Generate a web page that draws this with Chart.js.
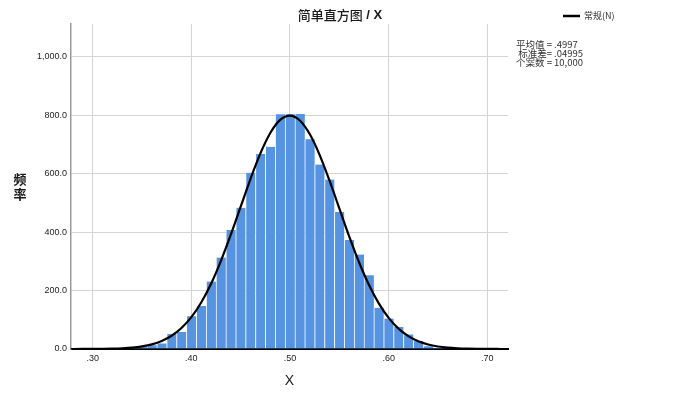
<!DOCTYPE html>
<html>
<head>
<meta charset="utf-8">
<script src="https://cdn.jsdelivr.net/npm/chart.js@4.4.1/dist/chart.umd.min.js"></script>
<style>
  html, body { margin: 0; padding: 0; background: #fff; }
  #wrap { width: 680px; height: 400px; position: relative; }
</style>
</head>
<body>
<div id="wrap"><canvas id="c" width="680" height="400"></canvas></div>
<script>
// ---- data ----
const binCenters = [0.34, 0.35, 0.36, 0.37, 0.38, 0.39, 0.40, 0.41, 0.42, 0.43, 0.44, 0.45, 0.46, 0.47, 0.48, 0.49,
                    0.50, 0.51, 0.52, 0.53, 0.54, 0.55, 0.56, 0.57, 0.58, 0.59, 0.60, 0.61, 0.62, 0.63, 0.64, 0.65, 0.66];
const frequencies = [7, 9, 13, 19, 51, 58, 112, 147, 231, 313, 407, 483, 603, 667, 692, 803,
                     803, 804, 718, 631, 580, 469, 373, 323, 252, 141, 104, 75, 50, 27, 9, 4, 1];

const curveX = [0.27, 0.28, 0.29, 0.30, 0.31, 0.32, 0.33, 0.34, 0.35, 0.36, 0.37, 0.38, 0.39, 0.40, 0.41, 0.42,
                0.43, 0.44, 0.45, 0.46, 0.47, 0.48, 0.49, 0.50, 0.51, 0.52, 0.53, 0.54, 0.55, 0.56, 0.57, 0.58,
                0.59, 0.60, 0.61, 0.62, 0.63, 0.64, 0.65, 0.66, 0.67, 0.68, 0.69, 0.70, 0.71, 0.72, 0.73];
const curveY = [0.02, 0.05, 0.12, 0.27, 0.59, 1.2, 2.5, 4.8, 9.0, 16.0, 27.4, 45.2, 71.6, 108.9, 159.2, 223.5,
                301.8, 391.1, 486.9, 582.3, 669.2, 739.0, 783.8, 798.7, 781.9, 735.4, 664.4, 576.7, 481.1, 385.5, 296.8, 219.6,
                156.0, 106.4, 69.8, 44.0, 26.6, 15.5, 8.6, 4.6, 2.4, 1.2, 0.56, 0.26, 0.11, 0.05, 0.02];

const xTickValues = [0.30, 0.40, 0.50, 0.60, 0.70];
const xTickLabels = ['.30', '.40', '.50', '.60', '.70'];
const yTickValues = [0, 200, 400, 600, 800, 1000];
const yTickLabels = ['0.0', '200.0', '400.0', '600.0', '800.0', '1,000.0'];

const titleMain = '简单直方图';
const titleTail = ' / X';
const xTitle = 'X';
const yTitle = '频率';
const legendLabel = '常规(N)';
const statLines = ['平均值 = .4997', ' 标准差= .04995', '个案数 = 10,000'];

// ---- chart ----
const overlay = {
  id: 'overlay',
  afterDraw(chart) {
    const ctx = chart.ctx;
    ctx.save();
    ctx.fillStyle = '#1a1a1a';
    ctx.textBaseline = 'middle';

    // title, centred on the canvas
    const fMain = '500 13px "Noto Sans CJK SC"';
    const fTail = 'bold 13px "Liberation Sans"';
    ctx.font = fMain; const w1 = ctx.measureText(titleMain).width;
    ctx.font = fTail; const w2 = ctx.measureText(titleTail).width;
    let tx = chart.width / 2 - (w1 + w2) / 2;
    ctx.textAlign = 'left';
    ctx.font = fMain; ctx.fillText(titleMain, tx, 15);
    ctx.font = fTail; ctx.fillText(titleTail, tx + w1, 15);

    // stacked y title
    ctx.textAlign = 'center';
    ctx.font = 'bold 13px "Noto Sans CJK SC"';
    Array.from(yTitle).forEach((ch, i) => ctx.fillText(ch, 20, 179 + i * 15));

    // legend
    ctx.strokeStyle = '#000';
    ctx.lineWidth = 2.5;
    ctx.beginPath();
    ctx.moveTo(563, 16);
    ctx.lineTo(580, 16);
    ctx.stroke();
    ctx.textAlign = 'left';
    ctx.fillStyle = '#333';
    ctx.font = '9px "Noto Sans CJK SC"';
    ctx.fillText(legendLabel, 584, 16);

    ctx.font = '9.5px "Noto Sans CJK SC"';
    statLines.forEach((t, i) => ctx.fillText(t, 516, 44 + i * 9));
    ctx.restore();
  }
};

new Chart(document.getElementById('c'), {
  type: 'bar',
  data: {
    datasets: [
      {
        type: 'line',
        label: legendLabel,
        data: curveX.map((x, i) => ({ x: x, y: curveY[i] })),
        borderColor: '#000',
        borderWidth: 2.2,
        pointRadius: 0,
        fill: false,
        tension: 0.4,
        cubicInterpolationMode: 'monotone',
        order: 0
      },
      {
        type: 'bar',
        label: 'X',
        data: binCenters.map((x, i) => ({ x: x, y: frequencies[i] })),
        backgroundColor: '#5694E2',
        borderColor: 'rgba(255,255,255,0.6)',
        borderWidth: { left: 1, right: 0, top: 0, bottom: 0 },
        barPercentage: 1.0,
        categoryPercentage: 1.0,
        order: 1
      }
    ]
  },
  options: {
    responsive: false,
    animation: false,
    devicePixelRatio: 1,
    layout: { padding: { top: 24, left: 0, right: 172, bottom: 0 } },
    plugins: {
      legend: { display: false },
      tooltip: { enabled: false },
      title: { display: false }
    },
    scales: {
      x: {
        type: 'linear',
        min: 0.278,
        max: 0.721,
        offset: false,
        afterBuildTicks: (s) => { s.ticks = xTickValues.map(v => ({ value: v })); },
        afterFit: (s) => { s.height = 51; },
        ticks: {
          callback: (v) => { const i = xTickValues.findIndex(t => Math.abs(t - v) < 1e-9); return i >= 0 ? xTickLabels[i] : ''; },
          font: { family: 'Liberation Sans', size: 9 },
          color: '#222',
          padding: 4,
          maxRotation: 0,
          autoSkip: false
        },
        grid: { color: '#d4d4d4', lineWidth: 1, drawTicks: false, offset: false },
        border: { color: '#000', width: 2 },
        title: {
          display: true,
          text: xTitle,
          font: { family: 'Liberation Sans', size: 14 },
          color: '#1a1a1a',
          padding: { top: 0, bottom: 10 }
        }
      },
      y: {
        type: 'linear',
        min: 0,
        max: 1112,
        afterBuildTicks: (s) => { s.ticks = yTickValues.map(v => ({ value: v })); },
        afterFit: (s) => { s.width = 71; },
        ticks: {
          callback: (v) => { const i = yTickValues.indexOf(v); return i >= 0 ? yTickLabels[i] : ''; },
          font: { family: 'Liberation Sans', size: 9 },
          color: '#222',
          padding: 4,
          autoSkip: false
        },
        grid: { color: '#d4d4d4', lineWidth: 1, drawTicks: false },
        border: { color: '#9a9a9a', width: 1.5 }
      }
    }
  },
  plugins: [overlay]
});
</script>
</body>
</html>
